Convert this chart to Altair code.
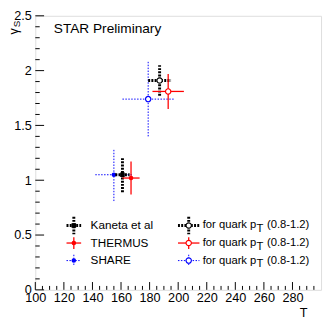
import altair as alt
import pandas as pd

# ---------------- data ----------------
series = ["Kaneta et al", "THERMUS", "SHARE"]
# fits (filled markers)
T_fit = [161, 167, 155]
T_fit_err = [5, 6, 13]
gs_fit = [1.05, 1.02, 1.05]
gs_fit_err = [0.16, 0.15, 0.24]
# for quark pT (0.8-1.2) (open markers)
T_quark = [187, 193, 179]
T_quark_err = [8, 11, 18]
gs_quark = [1.91, 1.81, 1.74]
gs_quark_err = [0.14, 0.16, 0.34]

quark_text = ["for quark p", "T", "(0.8-1.2)"]
x_labels = [100, 120, 140, 160, 180, 200, 220, 240, 260, 280]
y_labels = [0, 0.5, 1, 1.5, 2, 2.5]
x_minor = [v for v in range(100, 300, 5) if v % 20 != 0]
y_minor = [round(v * 0.1, 1) for v in range(0, 25) if v % 5 != 0]

# ---------------- style ----------------
W, H = 293, 281
FONT = "Liberation Sans"
colors = ["black", "red", "blue"]
widths = [3, 1.3, 1]
dashes = [[2, 1.3], None, [1.5, 1.5]]
fit_shapes = ["square", "circle", "circle"]

xs = alt.Scale(domain=[100, 300], nice=False, zero=False)
ys = alt.Scale(domain=[0, 2.5], nice=False, zero=False)
xaxis = alt.Axis(values=x_labels, format="d", title=None, grid=False, ticks=False,
                 domain=False, labelFont=FONT, labelFontSize=13, labelColor="black",
                 labelPadding=2, labelFlush=False, labelOverlap=False)
yaxis = alt.Axis(values=y_labels, format="~g", title=None, grid=False, ticks=False,
                 domain=False, labelFont=FONT, labelFontSize=13, labelColor="black",
                 labelPadding=4, labelFlush=False, labelOverlap=False)


def X(f):
    return alt.X(f, type="quantitative", scale=xs, axis=xaxis)


def Y(f):
    return alt.Y(f, type="quantitative", scale=ys, axis=yaxis)


def rule_kw(i):
    kw = dict(color=colors[i], strokeWidth=widths[i])
    if dashes[i] is not None:
        kw["strokeDash"] = dashes[i]
    return kw


layers = []

# ticks (inside the frame, ROOT style)
layers.append(alt.Chart(pd.DataFrame({"v": x_labels})).mark_rule(color="black", strokeWidth=1)
              .encode(x=X("v"), y=alt.value(H), y2=alt.value(H - 8)))
layers.append(alt.Chart(pd.DataFrame({"v": x_minor})).mark_rule(color="black", strokeWidth=1)
              .encode(x=X("v"), y=alt.value(H), y2=alt.value(H - 4)))
layers.append(alt.Chart(pd.DataFrame({"v": y_labels})).mark_rule(color="black", strokeWidth=1)
              .encode(y=Y("v"), x=alt.value(0), x2=alt.value(9)))
layers.append(alt.Chart(pd.DataFrame({"v": y_minor})).mark_rule(color="black", strokeWidth=1)
              .encode(y=Y("v"), x=alt.value(0), x2=alt.value(4.5)))

# data points with error bars
order = [2, 0, 1]
for i in order:
    for (T, Te, g, ge, filled) in [(T_fit, T_fit_err, gs_fit, gs_fit_err, True),
                                   (T_quark, T_quark_err, gs_quark, gs_quark_err, False)]:
        d = pd.DataFrame({"T": [T[i]], "tlo": [T[i] - Te[i]], "thi": [T[i] + Te[i]],
                          "g": [g[i]], "glo": [g[i] - ge[i]], "ghi": [g[i] + ge[i]]})
        base = alt.Chart(d)
        layers.append(base.mark_rule(**rule_kw(i)).encode(x=X("tlo"), x2="thi", y=Y("g")))
        layers.append(base.mark_rule(**rule_kw(i)).encode(x=X("T"), y=Y("glo"), y2="ghi"))
        if filled:
            layers.append(base.mark_point(shape=fit_shapes[i], filled=True, color=colors[i],
                                          size=22, opacity=1).encode(x=X("T"), y=Y("g")))
        else:
            layers.append(base.mark_point(shape="circle", filled=False, fill="white",
                                          color=colors[i], size=30, strokeWidth=1.2,
                                          opacity=1).encode(x=X("T"), y=Y("g")))

# legend
row_y = [215, 233, 251]
for i in range(3):
    for (cx, hw, filled) in [(39.5, 7.5, True), (157.3, 11, False)]:
        d = pd.DataFrame({"x": [cx], "xl": [cx - hw], "xr": [cx + hw],
                          "y": [row_y[i]], "yt": [row_y[i] - 9], "yb": [row_y[i] + 9]})
        base = alt.Chart(d)
        layers.append(base.mark_rule(**rule_kw(i)).encode(
            x=alt.X("xl:Q", scale=None), x2="xr:Q", y=alt.Y("y:Q", scale=None)))
        if i == 0:
            layers.append(base.mark_rule(**rule_kw(i)).encode(
                x=alt.X("x:Q", scale=None), y=alt.Y("yt:Q", scale=None), y2="yb:Q"))
        else:
            d2 = pd.DataFrame({"x": [cx], "yt": [row_y[i] - 6], "yb": [row_y[i] + 6]})
            layers.append(alt.Chart(d2).mark_rule(**rule_kw(i)).encode(
                x=alt.X("x:Q", scale=None), y=alt.Y("yt:Q", scale=None), y2="yb:Q"))
        if filled:
            layers.append(base.mark_point(shape=fit_shapes[i], filled=True, color=colors[i],
                                          size=22, opacity=1).encode(
                x=alt.X("x:Q", scale=None), y=alt.Y("y:Q", scale=None)))
        else:
            layers.append(base.mark_point(shape="circle", filled=False, fill="white",
                                          color=colors[i], size=30, strokeWidth=1.2,
                                          opacity=1).encode(
                x=alt.X("x:Q", scale=None), y=alt.Y("y:Q", scale=None)))

leg_left = pd.DataFrame({"label": series, "y": row_y})
layers.append(alt.Chart(leg_left).mark_text(align="left", baseline="middle", font=FONT,
                                            fontSize=12, color="black").encode(
    x=alt.value(56.7), y=alt.Y("y:Q", scale=None), text="label:N"))
leg_right = pd.DataFrame({"y": row_y})
layers.append(alt.Chart(leg_right).mark_text(align="left", baseline="middle", font=FONT,
                                             fontSize=11.5, color="black", text=quark_text[0]).encode(
    x=alt.value(171.7), y=alt.Y("y:Q", scale=None)))
layers.append(alt.Chart(leg_right).mark_text(align="left", baseline="middle", font=FONT,
                                             fontSize=11.5, color="black", dy=4,
                                             text=quark_text[1]).encode(
    x=alt.value(226.8), y=alt.Y("y:Q", scale=None)))
layers.append(alt.Chart(leg_right).mark_text(align="left", baseline="middle", font=FONT,
                                             fontSize=11.5, color="black",
                                             text=quark_text[2]).encode(
    x=alt.value(237.5), y=alt.Y("y:Q", scale=None)))

one = pd.DataFrame({"a": [0]})
# STAR Preliminary
layers.append(alt.Chart(one).mark_text(align="left", baseline="alphabetic", font=FONT,
                                       fontSize=14, color="black", text="STAR Preliminary")
              .encode(x=alt.value(19), y=alt.value(18)))
# axis titles
layers.append(alt.Chart(one).mark_text(align="center", baseline="middle", font=FONT,
                                       fontSize=13, color="black", text="T")
              .encode(x=alt.value(275), y=alt.value(305)))
layers.append(alt.Chart(one).mark_text(align="center", baseline="middle", font=FONT,
                                       fontSize=13, color="black", text="γ", angle=270)
              .encode(x=alt.value(-21.5), y=alt.value(16)))
layers.append(alt.Chart(one).mark_text(align="center", baseline="middle", font=FONT,
                                       fontSize=10, color="black", text="S", angle=270)
              .encode(x=alt.value(-19), y=alt.value(8.5)))

chart = alt.layer(*layers).properties(
    width=W, height=H,
    autosize=alt.AutoSizeParams(type="none"),
    padding={"left": 28, "top": 4, "right": 2, "bottom": 30},
).configure_view(stroke="black", strokeWidth=1).configure(background="white")

chart.save("out.html", embed_options={"renderer": "svg", "actions": False})
